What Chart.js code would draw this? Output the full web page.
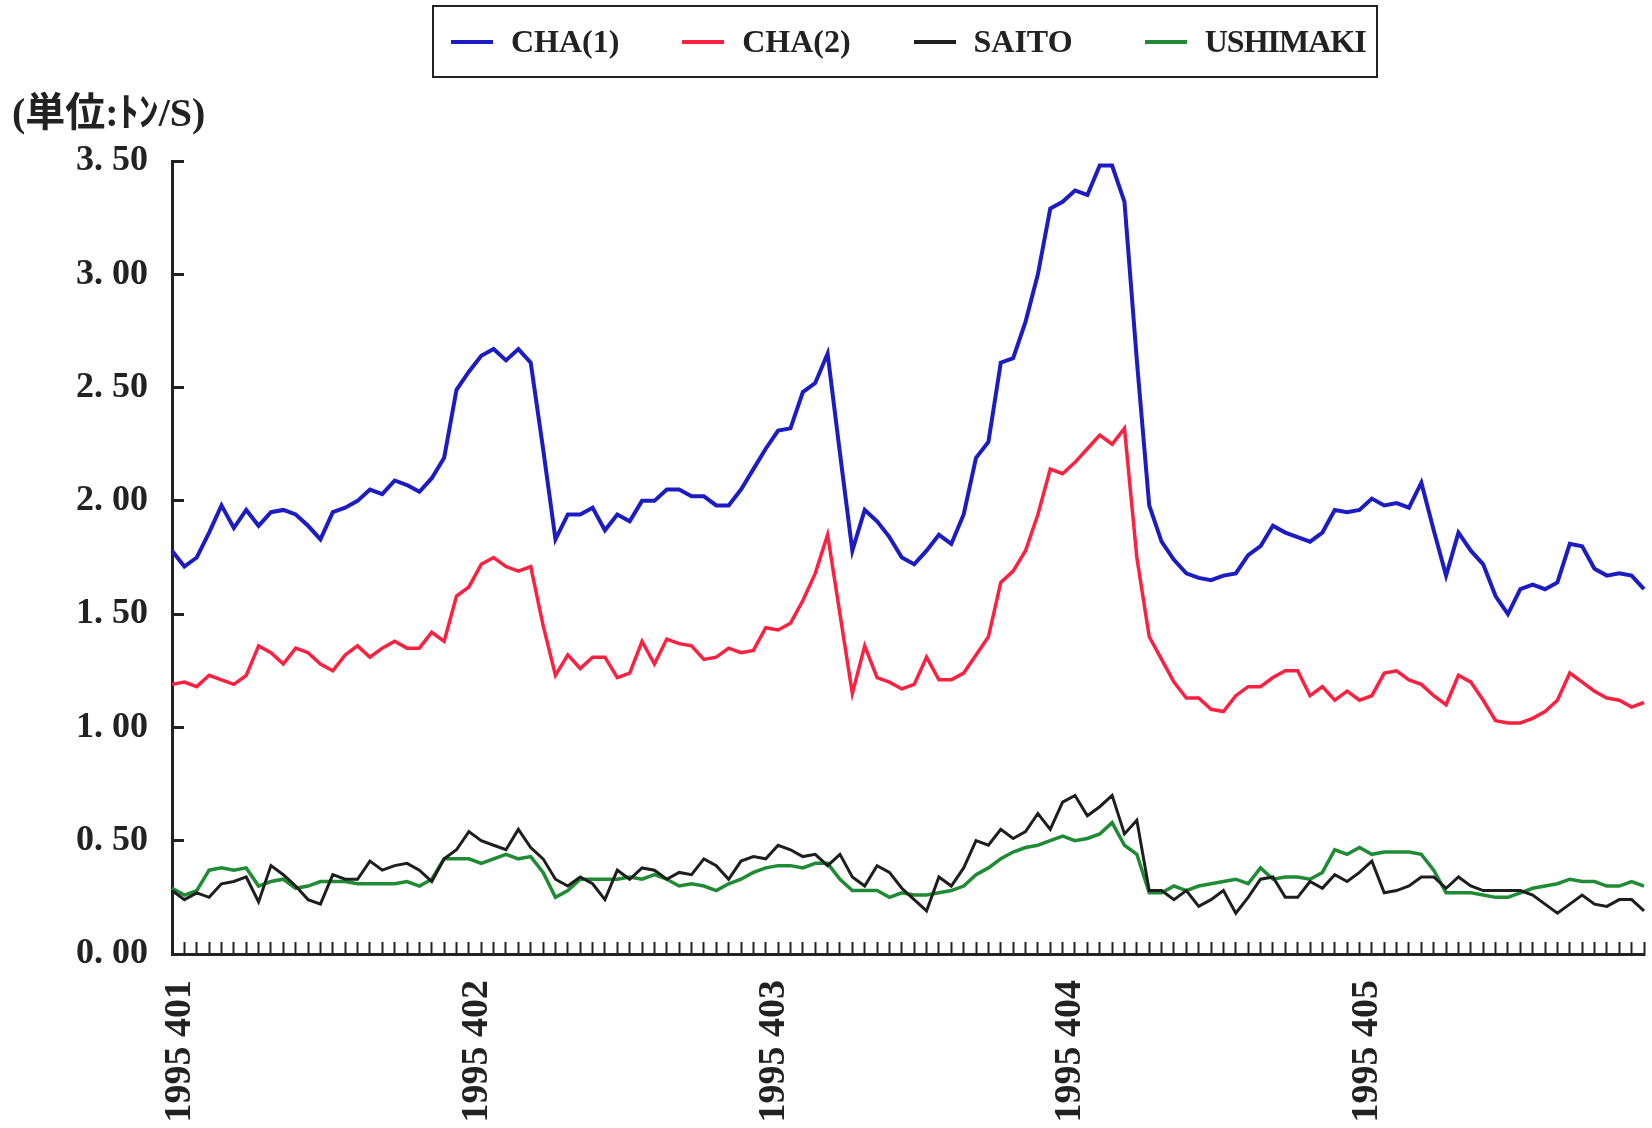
<!DOCTYPE html>
<html lang="ja">
<head>
<meta charset="utf-8">
<title>CHA / SAITO / USHIMAKI</title>
<script src="https://cdn.jsdelivr.net/npm/chart.js@4.4.0/dist/chart.umd.min.js"></script>
<style>
    html, body { margin: 0; padding: 0; background: #fff; }
    #wrap { position: relative; width: 1652px; height: 1128px; }
    #legend {
        position: absolute; left: 432px; top: 5px; width: 946px; height: 73px;
        border: 2px solid #222; box-sizing: border-box;
        display: flex; align-items: center; padding-left: 17px;
    }
    .item { width: 232px; display: flex; align-items: center; font: bold 32px 'Liberation Serif', serif; color: #222; }
    .item:last-child { letter-spacing: -1px; }
    .item .swatch { width: 42px; height: 4px; margin-right: 18px; }
</style>
</head>
<body>
<div id="wrap">
    <canvas id="chart"></canvas>
    <div id="legend"></div>
</div>
<script>
(function() {
    'use strict';

    // Hourly readings, 24 per day, 1995/4/01 - 4/05
    const dayLabels = ['1995 401', '1995 402', '1995 403', '1995 404', '1995 405'];
    const hoursPerDay = 24;

    const seriesNames = ['CHA(1)', 'CHA(2)', 'SAITO', 'USHIMAKI'];

    const cha1 = [
        1.78, 1.71, 1.75, 1.86, 1.98, 1.88, 1.96, 1.89, 1.95, 1.96,
        1.94, 1.89, 1.83, 1.95, 1.97, 2.00, 2.05, 2.03, 2.09, 2.07,
        2.04, 2.10, 2.19, 2.49, 2.57, 2.64, 2.67, 2.62, 2.67, 2.61,
        2.23, 1.83, 1.94, 1.94, 1.97, 1.87, 1.94, 1.91, 2.00, 2.00,
        2.05, 2.05, 2.02, 2.02, 1.98, 1.98, 2.05, 2.14, 2.23, 2.31,
        2.32, 2.48, 2.52, 2.65, 2.21, 1.78, 1.96, 1.91, 1.84, 1.75,
        1.72, 1.78, 1.85, 1.81, 1.94, 2.19, 2.26, 2.61, 2.63, 2.79,
        3.00, 3.29, 3.32, 3.37, 3.35, 3.48, 3.48, 3.32, 2.62, 1.98,
        1.82, 1.74, 1.68, 1.66, 1.65, 1.67, 1.68, 1.76, 1.80, 1.89,
        1.86, 1.84, 1.82, 1.86, 1.96, 1.95, 1.96, 2.01, 1.98, 1.99,
        1.97, 2.08, 1.87, 1.67, 1.86, 1.78, 1.72, 1.58, 1.50, 1.61,
        1.63, 1.61, 1.64, 1.81, 1.80, 1.70, 1.67, 1.68, 1.67, 1.61
    ];
    const cha2 = [
        1.19, 1.20, 1.18, 1.23, 1.21, 1.19, 1.23, 1.36, 1.33, 1.28,
        1.35, 1.33, 1.28, 1.25, 1.32, 1.36, 1.31, 1.35, 1.38, 1.35,
        1.35, 1.42, 1.38, 1.58, 1.62, 1.72, 1.75, 1.71, 1.69, 1.71,
        1.45, 1.23, 1.32, 1.26, 1.31, 1.31, 1.22, 1.24, 1.38, 1.28,
        1.39, 1.37, 1.36, 1.30, 1.31, 1.35, 1.33, 1.34, 1.44, 1.43,
        1.46, 1.56, 1.68, 1.85, 1.50, 1.15, 1.36, 1.22, 1.20, 1.17,
        1.19, 1.31, 1.21, 1.21, 1.24, 1.32, 1.40, 1.64, 1.69, 1.78,
        1.94, 2.14, 2.12, 2.17, 2.23, 2.29, 2.25, 2.32, 1.75, 1.40,
        1.30, 1.20, 1.13, 1.13, 1.08, 1.07, 1.14, 1.18, 1.18, 1.22,
        1.25, 1.25, 1.14, 1.18, 1.12, 1.16, 1.12, 1.14, 1.24, 1.25,
        1.21, 1.19, 1.14, 1.10, 1.23, 1.20, 1.12, 1.03, 1.02, 1.02,
        1.04, 1.07, 1.12, 1.24, 1.20, 1.16, 1.13, 1.12, 1.09, 1.11
    ];
    const saito = [
        0.28, 0.24, 0.27, 0.25, 0.31, 0.32, 0.34, 0.23, 0.39, 0.35,
        0.30, 0.24, 0.22, 0.35, 0.33, 0.33, 0.41, 0.37, 0.39, 0.40,
        0.37, 0.32, 0.42, 0.46, 0.54, 0.50, 0.48, 0.46, 0.55, 0.47,
        0.42, 0.33, 0.30, 0.34, 0.31, 0.24, 0.37, 0.33, 0.38, 0.37,
        0.33, 0.36, 0.35, 0.42, 0.39, 0.33, 0.41, 0.43, 0.42, 0.48,
        0.46, 0.43, 0.44, 0.39, 0.44, 0.34, 0.30, 0.39, 0.36, 0.29,
        0.24, 0.19, 0.34, 0.30, 0.38, 0.50, 0.48, 0.55, 0.51, 0.54,
        0.62, 0.55, 0.67, 0.70, 0.61, 0.65, 0.70, 0.53, 0.59, 0.28,
        0.28, 0.24, 0.28, 0.21, 0.24, 0.28, 0.18, 0.25, 0.33, 0.34,
        0.25, 0.25, 0.32, 0.29, 0.35, 0.32, 0.36, 0.41, 0.27, 0.28,
        0.30, 0.34, 0.34, 0.29, 0.34, 0.30, 0.28, 0.28, 0.28, 0.28,
        0.26, 0.22, 0.18, 0.22, 0.26, 0.22, 0.21, 0.24, 0.24, 0.19
    ];
    const ushimaki = [
        0.29, 0.26, 0.28, 0.37, 0.38, 0.37, 0.38, 0.30, 0.32, 0.33,
        0.29, 0.30, 0.32, 0.32, 0.32, 0.31, 0.31, 0.31, 0.31, 0.32,
        0.30, 0.33, 0.42, 0.42, 0.42, 0.40, 0.42, 0.44, 0.42, 0.43,
        0.36, 0.25, 0.28, 0.33, 0.33, 0.33, 0.33, 0.34, 0.33, 0.35,
        0.33, 0.30, 0.31, 0.30, 0.28, 0.31, 0.33, 0.36, 0.38, 0.39,
        0.39, 0.38, 0.40, 0.40, 0.33, 0.28, 0.28, 0.28, 0.25, 0.27,
        0.26, 0.26, 0.27, 0.28, 0.30, 0.35, 0.38, 0.42, 0.45, 0.47,
        0.48, 0.50, 0.52, 0.50, 0.51, 0.53, 0.58, 0.48, 0.44, 0.27,
        0.27, 0.30, 0.28, 0.30, 0.31, 0.32, 0.33, 0.31, 0.38, 0.33,
        0.34, 0.34, 0.33, 0.36, 0.46, 0.44, 0.47, 0.44, 0.45, 0.45,
        0.45, 0.44, 0.37, 0.27, 0.27, 0.27, 0.26, 0.25, 0.25, 0.27,
        0.29, 0.30, 0.31, 0.33, 0.32, 0.32, 0.30, 0.30, 0.32, 0.30
    ];

    const colors = ['#1c1cc4', '#ff2040', '#1e1e1e', '#1f8c33'];
    const lineWidths = [4, 3.5, 3, 3.5];

    const SERIF = "'Liberation Serif', 'Noto Sans CJK JP', serif";
    const INK = '#222';

    // one category per hour, day label on the first hour only
    const labels = [];
    dayLabels.forEach(d => {
        for (let h = 0; h < hoursPerDay; h++) labels.push(h === 0 ? d : '');
    });

    const values = [cha1, cha2, saito, ushimaki];
    const datasets = values.map((data, i) => ({
        label: seriesNames[i],
        data: data,
        borderColor: colors[i],
        backgroundColor: colors[i],
        borderWidth: lineWidths[i],
        pointRadius: 0,
        tension: 0,
        fill: false
    }));

    // HTML legend with the framed box
    const legendEl = document.getElementById('legend');
    seriesNames.forEach((name, i) => {
        const item = document.createElement('div');
        item.className = 'item';
        const sw = document.createElement('span');
        sw.className = 'swatch';
        sw.style.background = colors[i];
        item.appendChild(sw);
        item.appendChild(document.createTextNode(name));
        legendEl.appendChild(item);
    });

    const canvas = document.getElementById('chart');
    canvas.width = 1652;
    canvas.height = 1128;

    new Chart(canvas, {
        type: 'line',
        data: { labels: labels, datasets: datasets },
        options: {
            responsive: false,
            animation: false,
            layout: { padding: { top: 84, left: 12, right: 8, bottom: 0 } },
            plugins: {
                legend: { display: false },
                tooltip: { enabled: false },
                title: {
                    display: true,
                    text: '(単位:ﾄﾝ/S)',
                    align: 'start',
                    color: INK,
                    font: { family: SERIF, size: 40, weight: 'bold' },
                    padding: { top: 8, bottom: 21 }
                }
            },
            scales: {
                x: {
                    offset: false,
                    afterFit: function(scale) {
                        // axis height fixed, no extra side room for the rotated labels
                        scale.height = 174;
                        scale.paddingLeft = 0;
                        scale.paddingRight = 0;
                    },
                    ticks: {
                        autoSkip: false,
                        minRotation: 90,
                        maxRotation: 90,
                        padding: 38,
                        labelOffset: 8,
                        color: INK,
                        font: { family: SERIF, size: 38, weight: 'bold' }
                    },
                    grid: { drawOnChartArea: false, tickLength: -12, tickWidth: 2, tickColor: INK },
                    border: { color: INK, width: 3 }
                },
                y: {
                    min: 0,
                    max: 3.5,
                    afterFit: function(scale) { scale.width = 160; },
                    ticks: {
                        stepSize: 0.5,
                        padding: 36,
                        color: INK,
                        font: { family: SERIF, size: 36, weight: 'bold' },
                        callback: function(value) {
                            return value.toFixed(2).replace('.', '. ');
                        }
                    },
                    grid: { drawOnChartArea: false, tickLength: -12, tickWidth: 3, tickColor: INK },
                    border: { color: INK, width: 3 }
                }
            }
        }
    });
})();
</script>
</body>
</html>
